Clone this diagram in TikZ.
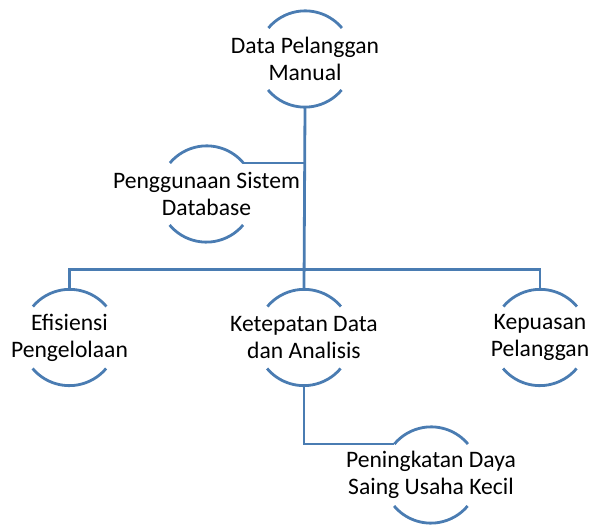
\documentclass[tikz,border=0pt]{standalone}
\usepackage{fontspec}
\setmainfont{Carlito}
\definecolor{ringblue}{RGB}{74,124,178}
\tikzset{
  ring/.style={circle, minimum size=96pt, inner sep=0pt},
  ringtext/.style={align=center, font=\fontsize{23.6}{27}\selectfont, inner sep=0pt},
  ringline/.style={draw=ringblue, line width=2.8pt},
  link/.style={draw=ringblue, line width=2.8pt}
}
\begin{document}
\begin{tikzpicture}[x=1pt,y=1pt]
                \useasboundingbox (0,0) rectangle (592,525);
                
                % Rings
                \node[ring] (manual) at (305,466) {};
                \node[ring] (sistem) at (206.5,331) {};
                \node[ring] (efisiensi) at (69.5,187.5) {};
                \node[ring] (ketepatan) at (304,187.5) {};
                \node[ring] (kepuasan) at (540,187.5) {};
                \node[ring] (peningkatan) at (431,50) {};
                
                % Open arcs top and bottom
                \foreach \n in {manual,sistem,efisiensi,ketepatan,kepuasan,peningkatan} {
                  \draw[ringline] (\n.40) arc (40:140:48);
                  \draw[ringline] (\n.220) arc (220:320:48);
                }
                
                % Connectors
                \draw[link] (manual.south) -- (ketepatan.north);
                \draw[link] (sistem.40) -- (sistem.40 -| manual.south);
                \draw[link] (efisiensi.north) -- ++(0,20) -| (kepuasan.north);
                \draw[link] (ketepatan.south) |- (peningkatan.140);
                
                % Texts
                \node[ringtext] (manualtext) at (manual) {Data Pelanggan\\Manual};
                \node[ringtext] (sistemtext) at (sistem) {Penggunaan Sistem\\Database};
                \node[ringtext] (efisiensitext) at (efisiensi) {Efisiensi\\Pengelolaan};
                \node[ringtext] (ketepatantext) at (ketepatan) {Ketepatan Data\\dan Analisis};
                \node[ringtext] (kepuasantext) at (kepuasan) {Kepuasan\\Pelanggan};
                \node[ringtext] (peningkatantext) at (peningkatan) {Peningkatan Daya\\Saing Usaha Kecil};
            \end{tikzpicture}
\end{document}
